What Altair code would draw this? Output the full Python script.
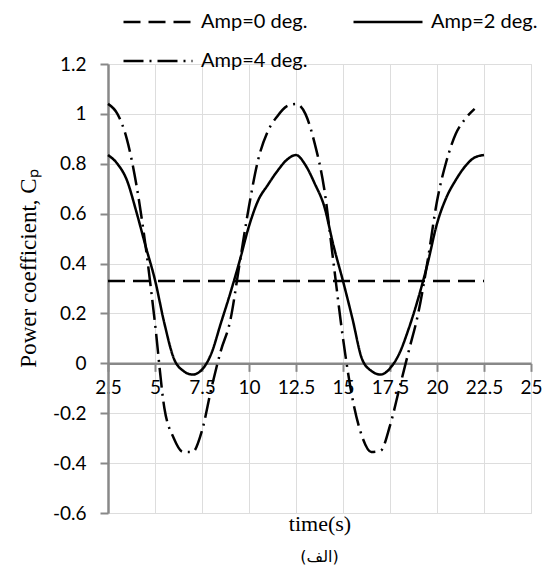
import altair as alt
import pandas as pd

# ---- data ----
series_names = ["Amp=0 deg.", "Amp=2 deg.", "Amp=4 deg."]
# legend fills column by column: this order gives rows (0, 2) and (4)
legend_order = ["Amp=0 deg.", "Amp=4 deg.", "Amp=2 deg."]
legend_dashes = [[17, 8], [20, 6, 2, 6], [1, 0]]

t_amp0 = [2.5, 22.5]
cp_amp0 = [0.33, 0.33]

t_amp2 = [2.5, 3.0, 3.5, 4.0, 4.5, 5.0, 5.5, 6.0, 6.5, 7.0, 7.5, 8.0, 8.5, 9.0, 9.5,
          10.0, 10.5, 11.0, 11.5, 12.0, 12.5, 13.0, 13.5, 14.0, 14.5, 15.0, 15.5,
          16.0, 16.5, 17.0, 17.5, 18.0, 18.5, 19.0, 19.5, 20.0, 20.5, 21.0, 21.5,
          22.0, 22.5]
cp_amp2 = [0.835, 0.80, 0.735, 0.61, 0.47, 0.334, 0.16, 0.02, -0.03, -0.045, -0.025,
           0.04, 0.16, 0.28, 0.41, 0.55, 0.655, 0.715, 0.77, 0.815, 0.835, 0.795, 0.72,
           0.63, 0.47, 0.33, 0.18, 0.02, -0.03, -0.045, -0.02, 0.04, 0.14, 0.26, 0.40,
           0.56, 0.665, 0.735, 0.79, 0.825, 0.835]

t_amp4 = [2.5, 3.0, 3.5, 4.0, 4.5, 5.0, 5.5, 6.0, 6.5, 7.0, 7.5, 8.0, 8.5, 9.0, 9.5,
          10.0, 10.5, 11.0, 11.5, 12.0, 12.5, 13.0, 13.5, 14.0, 14.5, 15.0, 15.5,
          16.0, 16.5, 17.0, 17.5, 18.0, 18.5, 19.0, 19.5, 20.0, 20.5, 21.0, 21.5,
          22.0]
cp_amp4 = [1.04, 1.00, 0.90, 0.72, 0.47, 0.16, -0.18, -0.30, -0.355, -0.355, -0.27,
           -0.10, 0.05, 0.17, 0.40, 0.63, 0.82, 0.93, 0.99, 1.03, 1.04, 1.00, 0.88,
           0.70, 0.40, 0.10, -0.14, -0.29, -0.355, -0.35, -0.25, -0.10, 0.05, 0.20,
           0.41, 0.65, 0.81, 0.92, 0.98, 1.02]

x_ticks = [2.5, 5, 7.5, 10, 12.5, 15, 17.5, 20, 22.5, 25]
y_ticks = [-0.6, -0.4, -0.2, 0, 0.2, 0.4, 0.6, 0.8, 1.0, 1.2]

rows = []
for name, ts, vs in zip(series_names, [t_amp0, t_amp2, t_amp4], [cp_amp0, cp_amp2, cp_amp4]):
    for t, v in zip(ts, vs):
        rows.append({"t": t, "cp": v, "series": name})
df = pd.DataFrame(rows)

W, H = 423, 449
ymin, ymax = -0.6, 1.2
x_axis_offset = -H * (0 - ymin) / (ymax - ymin)

tick_font = "Lato"
serif = "Liberation Serif"

chart = alt.Chart(df).mark_line(
    color="black", strokeWidth=2.5, interpolate="monotone"
).encode(
    x=alt.X(
        "t:Q",
        scale=alt.Scale(domain=[2.5, 25], nice=False, zero=False),
        axis=alt.Axis(
            values=x_ticks,
            labelExpr="toString(datum.value)",
            title="time(s)",
            offset=x_axis_offset,
            tickSize=8,
            tickWidth=2,
            domainWidth=2.5,
            labelPadding=7,
            labelFont=tick_font,
            labelFontSize=19,
            labelOverlap=False,
            labelFlush=False,
            labelBound=False,
            titleFont=serif,
            titleFontSize=22,
            titleFontWeight="normal",
            titleBaseline="middle",
            titleY=160,
        ),
    ),
    y=alt.Y(
        "cp:Q",
        scale=alt.Scale(domain=[ymin, ymax], nice=False, zero=False),
        axis=alt.Axis(
            values=y_ticks,
            labelExpr="toString(round(datum.value*10)/10)",
            title="Power coefficient, Cₚ",
            tickSize=8,
            tickWidth=2,
            domainWidth=2.5,
            labelPadding=14,
            labelFont=tick_font,
            labelFontSize=19,
            labelOverlap=False,
            labelFlush=False,
            labelBound=False,
            titleFont=serif,
            titleFontSize=23,
            titleFontWeight="normal",
            titleAngle=-90,
            titleBaseline="middle",
            titleX=-80,
            titleY=204,
        ),
    ),
    strokeDash=alt.StrokeDash(
        "series:N",
        scale=alt.Scale(domain=legend_order, range=legend_dashes),
        legend=alt.Legend(
            title=None,
            orient="none",
            legendX=37,
            legendY=-55,
            columns=2,
            columnPadding=40,
            rowPadding=16,
            padding=0,
            symbolType="M-3,0H3",
            symbolSize=529,
            symbolStrokeWidth=2.5,
            symbolStrokeColor="black",
            labelOffset=30,
            labelFont=tick_font,
            labelFontSize=20,
            labelColor="black",
        ),
    ),
    order="t:Q",
).properties(
    width=W,
    height=H,
    title=alt.TitleParams(
        "(الف)",
        orient="bottom",
        anchor="middle",
        frame="group",
        offset=23,
        font="DejaVu Sans",
        fontSize=16,
        fontWeight="normal",
        color="black",
        baseline="middle",
    ),
    autosize=alt.AutoSizeParams(type="none"),
    padding={"left": 100, "top": 56, "right": 18, "bottom": 57},
).configure_view(
    stroke=None
).configure_axis(
    grid=False,
    domainColor="black",
    tickColor="black",
    labelColor="black",
    titleColor="black",
).configure(background="white")

chart.save("out.html", embed_options={"renderer": "svg", "actions": False})
